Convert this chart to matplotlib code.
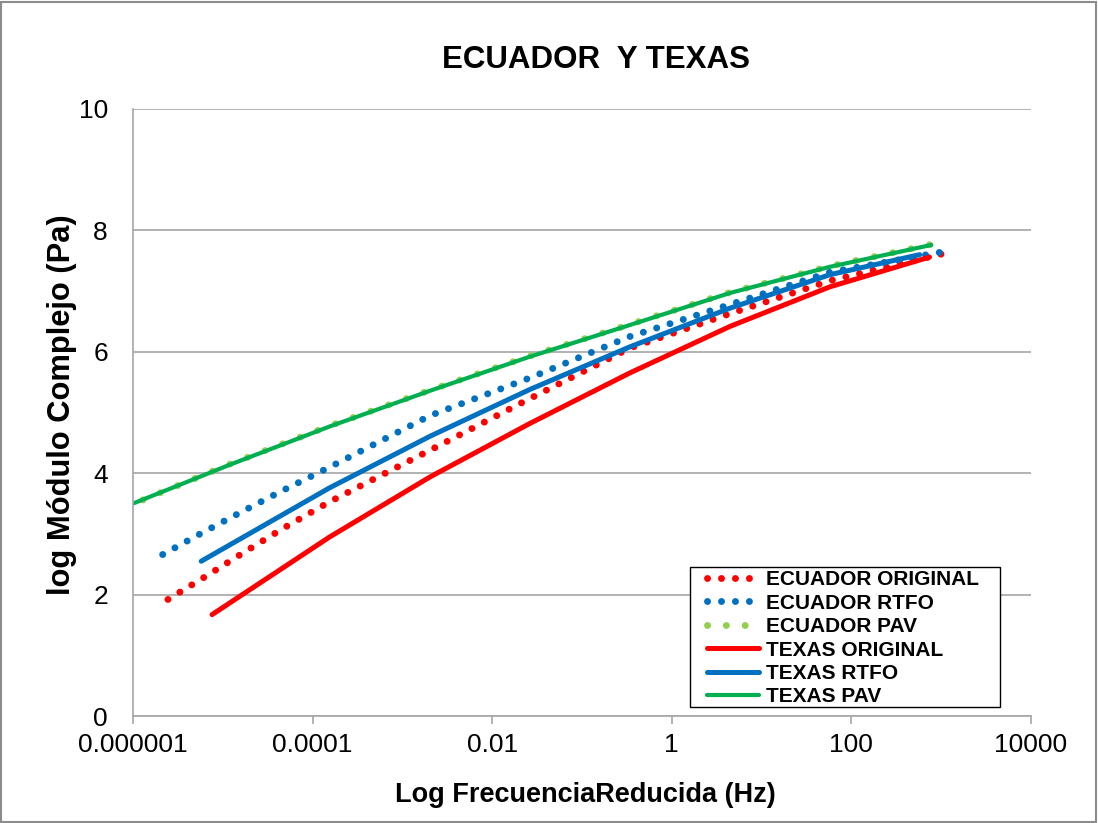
import matplotlib
matplotlib.use("Agg")
import matplotlib.pyplot as plt
from matplotlib.patches import Rectangle
from matplotlib.ticker import FixedLocator, FixedFormatter, NullLocator

plt.rcParams['font.family'] = ['Liberation Sans', 'DejaVu Sans']

# Reduced frequency (Hz) and log complex modulus (Pa) for each binder
ec_orig_f = [2.45e-6, 6.61e-6, 1.78e-5, 4.68e-5, 1.55e-4, 2.04e-3, 2.63e-2, 0.339, 4.47, 57.5, 1072]
ec_orig_g = [1.92, 2.31, 2.71, 3.09, 3.53, 4.38, 5.23, 6.06, 6.63, 7.17, 7.62]

ec_rtfo_f = [2.14e-6, 5.75e-6, 1.70e-5, 4.57e-5, 1.55e-4, 2.04e-3, 2.63e-2, 0.339, 4.47, 57.5, 1072]
ec_rtfo_g = [2.66, 3.01, 3.38, 3.71, 4.10, 4.95, 5.57, 6.25, 6.78, 7.31, 7.65]

ec_pav_f = [1.29e-6, 1.20e-5, 1.55e-4, 2.14e-3, 2.63e-2, 0.339, 4.47, 57.5, 776]
ec_pav_g = [3.56, 4.15, 4.78, 5.38, 5.93, 6.45, 6.98, 7.41, 7.77]

tx_orig_f = [7.59e-6, 1.55e-4, 2.04e-3, 2.63e-2, 0.339, 4.47, 57.5, 741]
tx_orig_g = [1.67, 2.95, 3.94, 4.82, 5.65, 6.42, 7.07, 7.56]

tx_rtfo_f = [5.75e-6, 1.55e-4, 2.04e-3, 2.63e-2, 0.339, 4.47, 57.5, 575]
tx_rtfo_g = [2.55, 3.76, 4.61, 5.38, 6.08, 6.72, 7.27, 7.60]

tx_pav_f = [1.0e-6, 1.20e-5, 1.55e-4, 2.14e-3, 2.63e-2, 0.339, 4.47, 57.5, 776]
tx_pav_g = [3.50, 4.14, 4.77, 5.37, 5.92, 6.44, 6.97, 7.40, 7.76]

x_ticks = [1e-6, 1e-4, 1e-2, 1, 100, 10000]
x_tick_labels = ["0.000001", "0.0001", "0.01", "1", "100", "10000"]
y_ticks = [0, 2, 4, 6, 8, 10]

RED = "#FF0000"
BLUE = "#0070C0"
LGREEN = "#92D050"
GREEN = "#00B050"

W, H = 1098, 823
fig = plt.figure(figsize=(W / 100, H / 100), dpi=100)
ax = fig.add_axes([133 / W, 1 - 716 / H, 898 / W, 607 / H])

dot_kw = dict(lw=5.0, dash_capstyle='round', solid_capstyle='round')
ax.plot(ec_orig_f, ec_orig_g, color=RED, linestyle=(0, (0.01, 2.0)),
        label="ECUADOR ORIGINAL", **dot_kw)
ax.plot(ec_rtfo_f, ec_rtfo_g, color=BLUE, linestyle=(0, (0.01, 2.0)),
        label="ECUADOR RTFO", **dot_kw)
ax.plot(ec_pav_f, ec_pav_g, color=LGREEN, linestyle=(0, (0.01, 2.7)),
        label="ECUADOR PAV", **dot_kw)
ax.plot(tx_orig_f, tx_orig_g, color=RED, lw=3.6, solid_capstyle='round', label="TEXAS ORIGINAL")
ax.plot(tx_rtfo_f, tx_rtfo_g, color=BLUE, lw=3.6, solid_capstyle='round', label="TEXAS RTFO")
ax.plot(tx_pav_f, tx_pav_g, color=GREEN, lw=3.0, solid_capstyle='round', label="TEXAS PAV")

ax.set_xscale('log')
ax.set_xlim(1e-6, 1e4)
ax.set_ylim(0, 10)
ax.xaxis.set_major_locator(FixedLocator(x_ticks))
ax.xaxis.set_major_formatter(FixedFormatter(x_tick_labels))
ax.xaxis.set_minor_locator(NullLocator())
ax.set_yticks(y_ticks)

ax.grid(axis='y', color='#A6A6A6', lw=1.2)
ax.set_axisbelow(True)
for s in ('top', 'right'):
    ax.spines[s].set_visible(False)
for s in ('left', 'bottom'):
    ax.spines[s].set_color('#A6A6A6')
    ax.spines[s].set_linewidth(1.2)
ax.tick_params(axis='both', colors='#A6A6A6', labelcolor='black', labelsize=19,
               width=1.2, direction='out')
ax.tick_params(axis='x', length=6, pad=6)
ax.tick_params(axis='y', length=0, pad=18)

fig.text(585 / W, 1 - 795 / H, "Log FrecuenciaReducida (Hz)", fontsize=19.5,
         fontweight='bold', ha='center', va='center')
fig.text(62 / W, 1 - 405 / H, "log Módulo Complejo (Pa)", fontsize=22.2,
         fontweight='bold', ha='center', va='center', rotation=90)
fig.text(596 / W, 1 - 60 / H, "ECUADOR  Y TEXAS", fontsize=22.5, fontweight='bold',
         ha='center', va='center')

# legend entries without frame, boxed separately
leg = ax.legend(loc='upper left', bbox_to_anchor=((705 - 133) / 898, (716 - 568) / 607),
                borderaxespad=0, prop={'weight': 'bold', 'size': 15}, frameon=False,
                handlelength=2.5, handletextpad=0.35, labelspacing=0.215, borderpad=0.1)
ax.add_patch(Rectangle(((690 - 133) / 898, (716 - 707) / 607), 310 / 898, 140 / 607,
                       transform=ax.transAxes, fill=True, facecolor='white',
                       edgecolor='black', lw=1.0, zorder=4))
leg.set_zorder(5)

fig.patches.append(Rectangle((0.001, 0.001), 0.997, 0.997, transform=fig.transFigure,
                             fill=False, edgecolor='#8C8C8C', lw=1.5))

fig.savefig("out.png", dpi=100)
